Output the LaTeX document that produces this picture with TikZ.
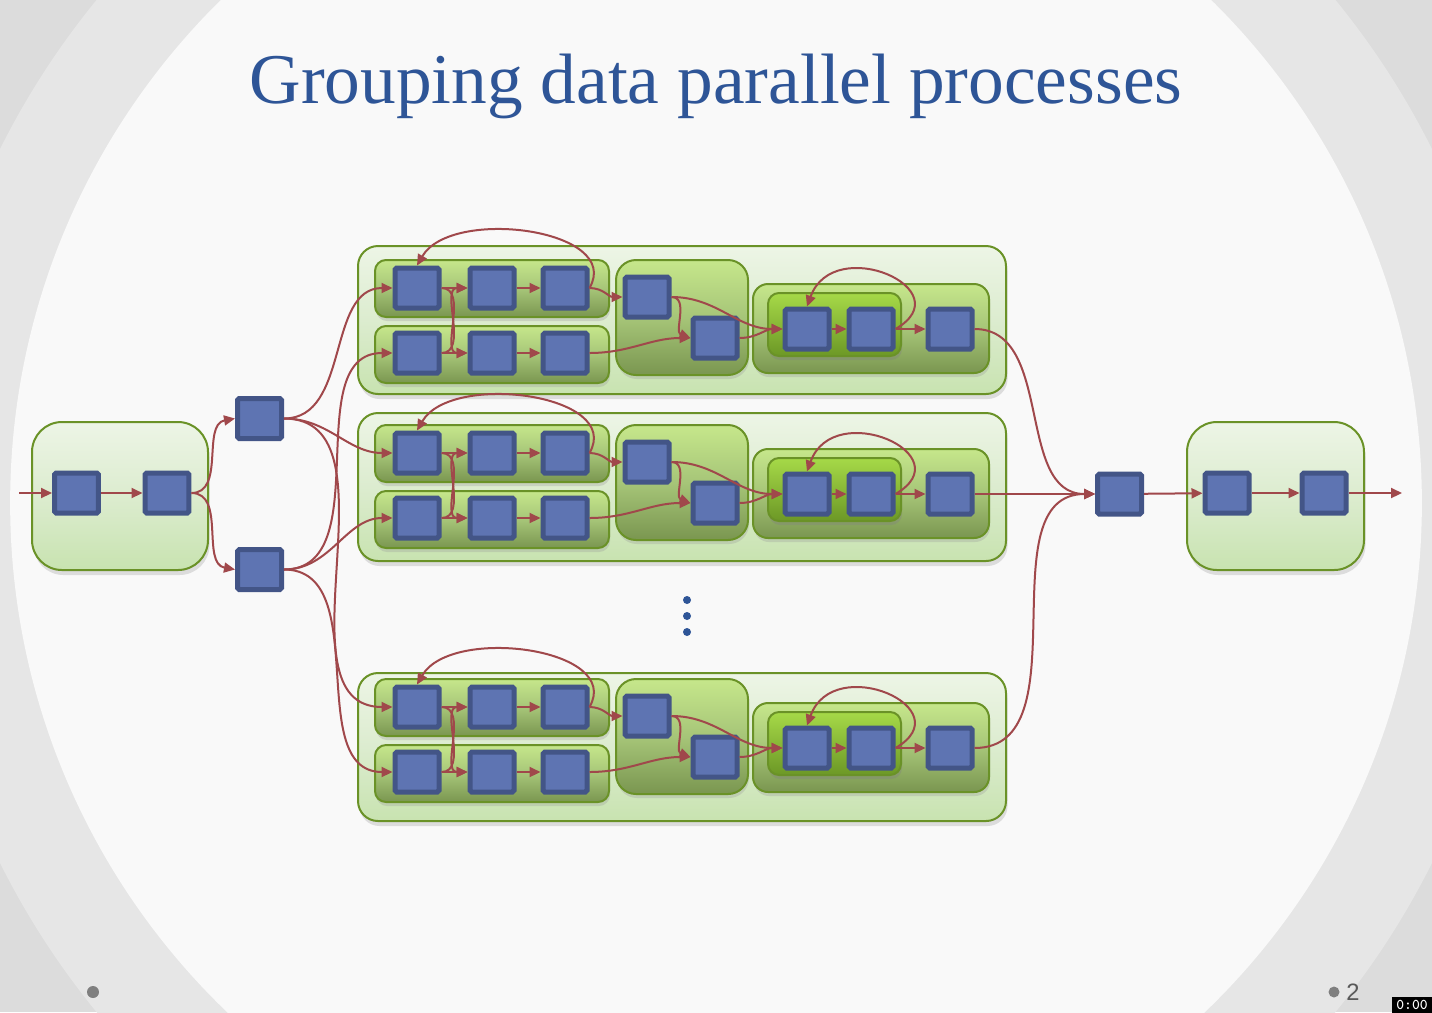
\documentclass[tikz,border=0pt]{standalone}
\usepackage{fontspec}
\setmainfont{Liberation Serif}
\setsansfont{Liberation Sans}
\usetikzlibrary{arrows.meta,shadows}

\definecolor{pagegray}{HTML}{DCDCDC}
\definecolor{bandgray}{HTML}{E6E6E6}
\definecolor{slidewhite}{HTML}{F9F9F9}
\definecolor{titleblue}{HTML}{2E5597}
\definecolor{procline}{HTML}{435587}
\definecolor{procfill}{HTML}{5E74B2}
\definecolor{flowred}{HTML}{A0484B}
\definecolor{grpline}{HTML}{6A9227}
\definecolor{grptop}{HTML}{EDF5E6}
\definecolor{grpmid}{HTML}{DCECCF}
\definecolor{grpbot}{HTML}{C8E3B0}
\definecolor{rowtop}{HTML}{C6E78B}
\definecolor{rowmid}{HTML}{A6C578}
\definecolor{rowbot}{HTML}{7A9650}
\definecolor{hottop}{HTML}{A6D948}
\definecolor{hotbot}{HTML}{6C9826}
\definecolor{markgray}{HTML}{7F7F7F}
\definecolor{numgray}{HTML}{595959}

\tikzset{
  proc/.style={
    draw=procline,
    fill=procfill,
    line width=0.1cm,
    minimum width=0.88cm,
    minimum height=0.8cm,
    inner sep=0pt,
    rounded corners=1pt
  },
  flow/.style={
    draw=flowred,
    line width=0.04cm,
    -{Triangle[length=0.22cm,width=0.2cm]}
  },
  stagebox/.style={
    draw=grpline,
    line width=0.04cm,
    rounded corners=0.6cm,
    top color=grptop,
    bottom color=grpbot,
    middle color=grpmid,
    drop shadow={shadow xshift=0.03cm, shadow yshift=-0.1cm, opacity=0.3, fill=black!40}
  },
  groupbox/.style={
    stagebox,
    rounded corners=0.4cm
  },
  rowbox/.style={
    draw=grpline,
    line width=0.04cm,
    rounded corners=0.22cm,
    top color=rowtop,
    bottom color=rowbot,
    middle color=rowmid,
    drop shadow={shadow xshift=0.02cm, shadow yshift=-0.08cm, opacity=0.3, fill=black!40}
  },
  hotbox/.style={
    draw=grpline,
    line width=0.04cm,
    rounded corners=0.22cm,
    top color=hottop,
    bottom color=hotbot,
    drop shadow={shadow xshift=0.02cm, shadow yshift=-0.08cm, opacity=0.35, fill=black!50}
  },
  title/.style={
    font=\fontsize{40.6}{44}\selectfont,
    text=titleblue,
    inner sep=0pt
  },
  pagenum/.style={
    font=\sffamily\fontsize{13.5}{15}\selectfont,
    text=numgray,
    inner sep=0pt
  },
  timer/.style={
    fill=black,
    text=white,
    font=\ttfamily\bfseries\fontsize{8.5}{9}\selectfont,
    minimum width=0.8cm,
    minimum height=0.32cm,
    inner sep=0pt
  }
}

\begin{document}
\begin{tikzpicture}[x=0.02cm, y=-0.02cm]
\useasboundingbox (0,0) rectangle (1432,1012);

% slide background
\begin{scope}
  \clip (0,0) rectangle (1432,1012);
  \fill[pagegray] (0,0) rectangle (1432,1012);
  \fill[bandgray] (716,506) circle[radius=16cm];
  \fill[slidewhite] (716,503) circle[radius=14.12cm];
\end{scope}

\node[title, anchor=base] (title) at (716,103) {Grouping data parallel processes};

% input stage
\draw[stagebox] (32,422) rectangle (208,570);
\coordinate (src) at (19,493);
\node[proc] (in1) at (76.5,493) {};
\node[proc] (in2) at (167,493) {};

% split
\node[proc] (split1) at (259.5,418.5) {};
\node[proc] (split2) at (259.5,569.5) {};

% data parallel groups
\foreach \grp/\cdy/\ody in {a/0/0, b/165/167, c/419/427} {
  \draw[groupbox] (358,246+\ody) rectangle (1006,394+\ody);
  \begin{scope}[shift={(0,\cdy)}]
    \draw[rowbox] (375,260) rectangle (609,317);
    \draw[rowbox] (375,326) rectangle (609,383);
    \draw[rowbox, rounded corners=0.4cm] (616,260) rectangle (748,375);
    \draw[rowbox, rounded corners=0.3cm] (753,284) rectangle (989,373);
    \draw[hotbox] (768,293) rectangle (901,356);

    \node[proc] (\grp-r11) at (417,288) {};
    \node[proc] (\grp-r12) at (492,288) {};
    \node[proc] (\grp-r13) at (565,288) {};
    \node[proc] (\grp-r21) at (417,353) {};
    \node[proc] (\grp-r22) at (492,353) {};
    \node[proc] (\grp-r23) at (565,353) {};
    \node[proc] (\grp-m1) at (647,297) {};
    \node[proc] (\grp-m2) at (715,338) {};
    \node[proc] (\grp-c1) at (807,329) {};
    \node[proc] (\grp-c2) at (871,329) {};
    \node[proc] (\grp-out) at (950,329) {};
  \end{scope}

  \draw[flow] (\grp-r11) -- (\grp-r12);
  \draw[flow] (\grp-r12) -- (\grp-r13);
  \draw[flow] (\grp-r21) -- (\grp-r22);
  \draw[flow] (\grp-r22) -- (\grp-r23);
  \draw[flow] (\grp-r11.east) to[out=0,in=180] (\grp-r22.west);
  \draw[flow] (\grp-r21.east) to[out=0,in=180] (\grp-r12.west);
  \draw[flow] (\grp-r13.east) to[out=60,in=60] (\grp-r11.north);
  \draw[flow] (\grp-r13.east) to[out=0,in=180] (\grp-m1.west);
  \draw[flow] (\grp-r23.east) to[out=0,in=180] (\grp-m2.west);
  \draw[flow] (\grp-m1.east) to[out=0,in=160] (\grp-m2.west);
  \draw[flow] (\grp-m1.east) to[out=0,in=180] (\grp-c1.west);
  \draw[flow] (\grp-m2.east) to[out=0,in=180] (\grp-c1.west);
  \draw[flow] (\grp-c1) -- (\grp-c2);
  \draw[flow] (\grp-c2) -- (\grp-out);
  \draw[flow] (\grp-c2.east) to[out=30,in=70,looseness=2.2] (\grp-c1.north);
}

\foreach \y in {600,616,632}
  \fill[titleblue] (687,\y) circle[radius=0.08cm];

% merge and output stage
\node[proc] (merge) at (1119.5,494) {};
\draw[stagebox] (1187,422) rectangle (1364,570);
\node[proc] (out1) at (1227,493) {};
\node[proc] (out2) at (1324,493) {};
\coordinate (sink) at (1402,493);

\draw[flow] (src) -- (in1);
\draw[flow] (in1) -- (in2);
\draw[flow] (in2.east) to[out=0,in=190] (split1.west);
\draw[flow] (in2.east) to[out=0,in=170] (split2.west);

\draw[flow] (split1.east) to[out=0,in=180] (a-r11.west);
\draw[flow] (split1.east) to[out=0,in=180] (b-r11.west);
\draw[flow] (split1.east) to[out=0,in=180] (c-r11.west);
\draw[flow] (split2.east) to[out=0,in=180] (a-r21.west);
\draw[flow] (split2.east) to[out=0,in=180] (b-r21.west);
\draw[flow] (split2.east) to[out=0,in=180] (c-r21.west);

\draw[flow] (a-out.east) to[out=0,in=180] (merge.west);
\draw[flow] (b-out.east) -- (merge.west);
\draw[flow] (c-out.east) to[out=0,in=180] (merge.west);
\draw[flow] (merge) -- (out1);
\draw[flow] (out1) -- (out2);
\draw[flow] (out2) -- (sink);

% footer
\fill[markgray] (93,992) circle[radius=0.12cm];
\fill[markgray] (1334,992) circle[radius=0.11cm];
\node[pagenum, anchor=base west] (pagenum) at (1346,1000) {2};
\node[timer] (timer) at (1412,1004.5) {0:00};
\end{tikzpicture}
\end{document}
